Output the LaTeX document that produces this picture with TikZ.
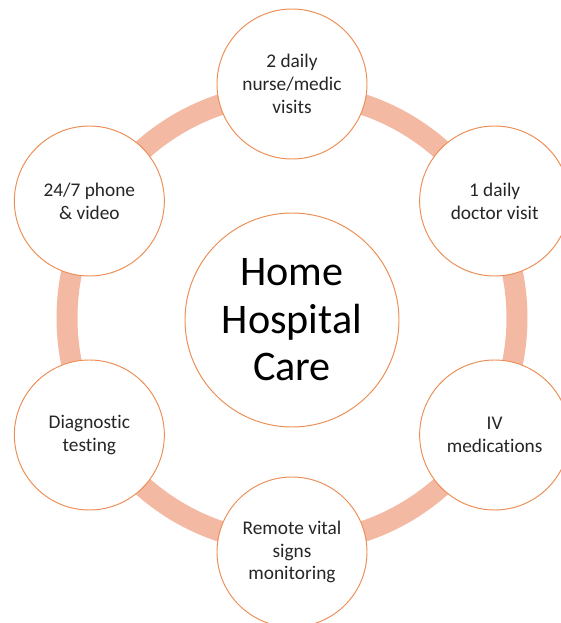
\documentclass[tikz,border=0pt]{standalone}
\usepackage{fontspec}
\setmainfont{Carlito}[Ligatures={NoCommon}]
\definecolor{band}{HTML}{F4B9A2}
\definecolor{rim}{HTML}{EC8E55}
\definecolor{ink}{HTML}{262626}

\begin{document}
\begin{tikzpicture}[
  spoke/.style={circle,draw=rim,line width=0.55pt,fill=white,
    minimum size=3cm,inner sep=0pt,align=center,text=ink,
    font=\fontsize{11}{13}\selectfont},
  hub/.style={circle,draw=rim,line width=0.55pt,fill=white,
    minimum size=4.28cm,inner sep=0pt,align=center,text=black,
    font=\fontsize{24}{27}\selectfont}]
  \useasboundingbox (0,0) rectangle (11.22,12.46);
  \coordinate (mid) at (5.84,6.10);

  % Ring behind the outer circles
  \draw[band,line width=0.42cm] (mid) circle (4.5);

  % Centre
  \node[hub] (care) at (5.84,6.06) {Home\\Hospital\\Care};

  % Outer circles, clockwise from the top
  \node[spoke] (nurse)  at ([shift={(90:4.68)}]mid)  {2 daily\\nurse/medic\\visits};
  \node[spoke] (doctor) at ([shift={(30:4.68)}]mid)  {1 daily\\doctor visit};
  \node[spoke] (iv)     at ([shift={(-30:4.68)}]mid) {IV\\medications};
  \node[spoke] (vitals) at ([shift={(-90:4.68)}]mid) {Remote vital\\signs\\monitoring};
  \node[spoke] (diag)   at ([shift={(210:4.68)}]mid) {Diagnostic\\testing};
  \node[spoke] (phone)  at ([shift={(150:4.68)}]mid) {24/7 phone\\\& video};
\end{tikzpicture}
\end{document}
